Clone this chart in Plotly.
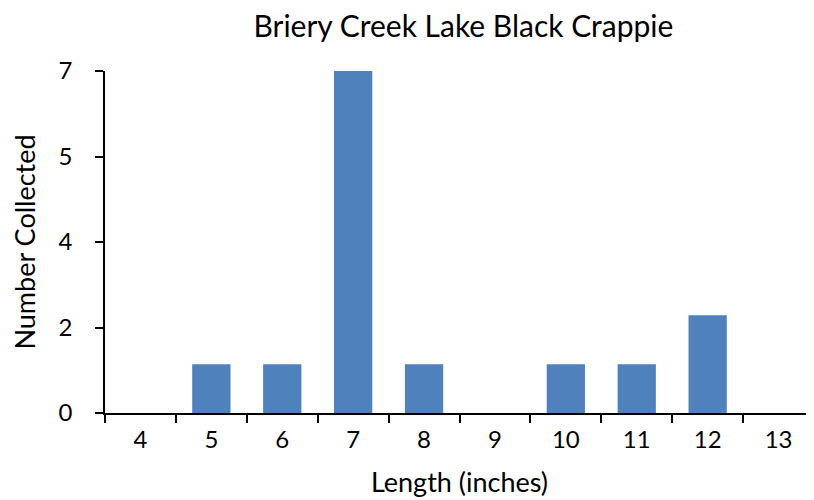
import plotly.graph_objects as go

lengths = ["4", "5", "6", "7", "8", "9", "10", "11", "12", "13"]
counts = [0, 1, 1, 7, 1, 0, 1, 1, 2, 0]
y_tick_vals = [0, 1.75, 3.5, 5.25, 7]
y_tick_text = ["0", "2", "4", "5", "7"]

font_family = "Lato, Open Sans, sans-serif"

fig = go.Figure(go.Bar(x=lengths, y=counts, marker_color="#4f81bd", marker_line_width=0))

fig.update_layout(
    width=806, height=492,
    margin=dict(l=97, r=0, t=63, b=87),
    paper_bgcolor="white", plot_bgcolor="white",
    bargap=0.46,
    showlegend=False,
    font=dict(family=font_family, color="black", size=24),
    title=dict(text="Briery Creek Lake Black Crappie", x=0.565, xanchor="center",
               y=0.962, yanchor="middle", font=dict(size=30, color="black")),
)
fig.update_xaxes(
    type="category", showline=True, linecolor="black", linewidth=1.5,
    ticks="outside", tickson="boundaries", ticklen=8, tickcolor="black", tickwidth=1.5,
    showgrid=False, tickfont=dict(size=24), ticklabelstandoff=4,
    title=dict(text="Length (inches)", font=dict(size=27), standoff=22),
)
fig.update_yaxes(
    range=[0, 7], tickvals=y_tick_vals, ticktext=y_tick_text,
    showline=True, linecolor="black", linewidth=1.5,
    ticks="outside", ticklen=8, tickcolor="black", tickwidth=1.5,
    showgrid=False, zeroline=False, tickfont=dict(size=24), ticklabelstandoff=18,
    title=dict(text="Number Collected", font=dict(size=27), standoff=22),
)

fig.write_html("out.html")
